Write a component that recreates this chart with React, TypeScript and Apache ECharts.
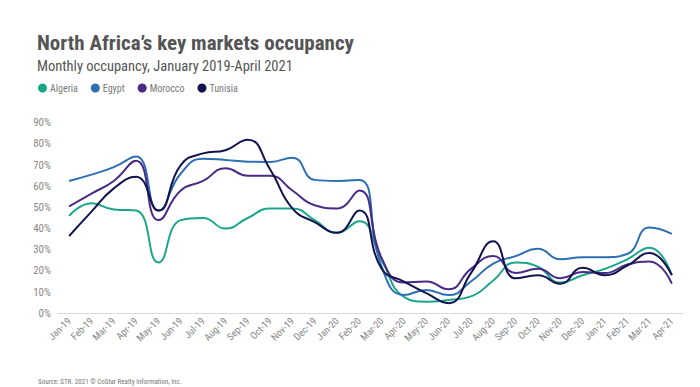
import React, { useEffect, useRef } from "react";
import * as echarts from "echarts";

const months = [
  "Jan-19", "Feb-19", "Mar-19", "Apr-19", "May-19", "Jun-19", "Jul-19", "Aug-19", "Sep-19", "Oct-19", "Nov-19", "Dec-19",
  "Jan-20", "Feb-20", "Mar-20", "Apr-20", "May-20", "Jun-20", "Jul-20", "Aug-20", "Sep-20", "Oct-20", "Nov-20", "Dec-20",
  "Jan-21", "Feb-21", "Mar-21", "Apr-21",
];

const algeria = [46, 52, 49, 48.5, 24, 44, 45, 40, 45, 49.5, 49.5, 44, 38, 43.5, 25, 7.8, 5.5, 6.3, 8, 15.5, 24, 22, 14.5, 18, 21, 25.5, 31, 18];
const egypt = [62.5, 65.5, 69, 74, 48.5, 66, 73, 72.4, 71.6, 71.5, 73.5, 63, 62.5, 63, 22, 8.6, 11, 8.6, 15, 23.5, 27, 30.5, 25.5, 26.5, 26.5, 28, 40.5, 37.5];
const morocco = [50.5, 56.5, 62.5, 72, 44, 58, 62.5, 68.5, 65, 65, 58, 51, 49.5, 58, 26, 14.5, 15, 11.3, 21, 27, 19, 21, 16.5, 19.5, 19, 23, 24.5, 14];
const tunisia = [36.5, 48, 59, 64.5, 48.5, 70, 75.5, 77, 82, 68, 49.5, 43, 38, 48.5, 21, 15, 9.5, 4.8, 19, 34, 16.5, 18, 14, 21.5, 18, 22.5, 28.5, 18];

const seriesNames = ["Algeria", "Egypt", "Morocco", "Tunisia"];
const seriesColors = ["#1aa68b", "#2d6fb3", "#4b2a86", "#12124f"];
const yTicks = { min: 0, max: 90, interval: 10 };

const titleText = "North Africa\u2019s key markets occupancy";
const subtitleText = "Monthly occupancy, January 2019-April 2021";
const sourceText = "Source: STR. 2021 \u00a9 CoStar Realty Information, Inc.";

const FONT = "'Liberation Sans Narrow', 'Roboto Condensed', 'Arial Narrow', 'Liberation Sans', sans-serif";

export default function App() {
  const ref = useRef<HTMLDivElement>(null);
  useEffect(() => {
    if (!ref.current) return;
    const chart = echarts.init(ref.current, null, { renderer: "svg" });
    const data = [algeria, egypt, morocco, tunisia];
    chart.setOption({
      animation: false,
      backgroundColor: "#ffffff",
      textStyle: { fontFamily: FONT },
      title: [
        {
          text: titleText,
          left: 32,
          top: 27,
          textStyle: { fontFamily: FONT, fontSize: 21, fontWeight: "bold", color: "#555555" },
        },
        {
          text: subtitleText,
          left: 32,
          top: 54,
          textStyle: { fontFamily: FONT, fontSize: 14.5, fontWeight: "normal", color: "#555555" },
        },
        {
          text: sourceText,
          left: 33,
          top: 373,
          textStyle: { fontFamily: FONT, fontSize: 7, fontWeight: "normal", color: "#777777" },
        },
      ],
      legend: {
        data: seriesNames,
        left: 33,
        top: 78,
        icon: "circle",
        itemWidth: 9,
        itemHeight: 9,
        itemGap: 13,
        textStyle: { fontFamily: FONT, fontSize: 10, color: "#777777", padding: [0, 0, 0, -2] },
      },
      grid: { left: 58, right: 17, top: 122.7, bottom: 73.7, containLabel: false },
      xAxis: {
        type: "category",
        data: months,
        boundaryGap: true,
        axisLine: { show: true, lineStyle: { color: "#d9d9d9", width: 1 } },
        axisTick: { show: false },
        axisLabel: {
          rotate: 45,
          interval: 0,
          fontFamily: FONT,
          fontSize: 10,
          color: "#888888",
          margin: 6,
        },
      },
      yAxis: {
        type: "value",
        min: yTicks.min,
        max: yTicks.max,
        interval: yTicks.interval,
        axisLine: { show: false },
        axisTick: { show: false },
        splitLine: { show: false },
        axisLabel: {
          formatter: "{value}%",
          fontFamily: FONT,
          fontSize: 11,
          color: "#888888",
          margin: 7,
        },
      },
      series: seriesNames.map((name, i) => ({
        name,
        type: "line",
        data: data[i],
        smooth: 0.5,
        showSymbol: false,
        symbol: "none",
        color: seriesColors[i],
        lineStyle: { width: 2, color: seriesColors[i] },
      })),
    });
    return () => chart.dispose();
  }, []);
  return <div ref={ref} style={{ width: 700, height: 387, position: "absolute", left: 0, top: 0 }} />;
}
